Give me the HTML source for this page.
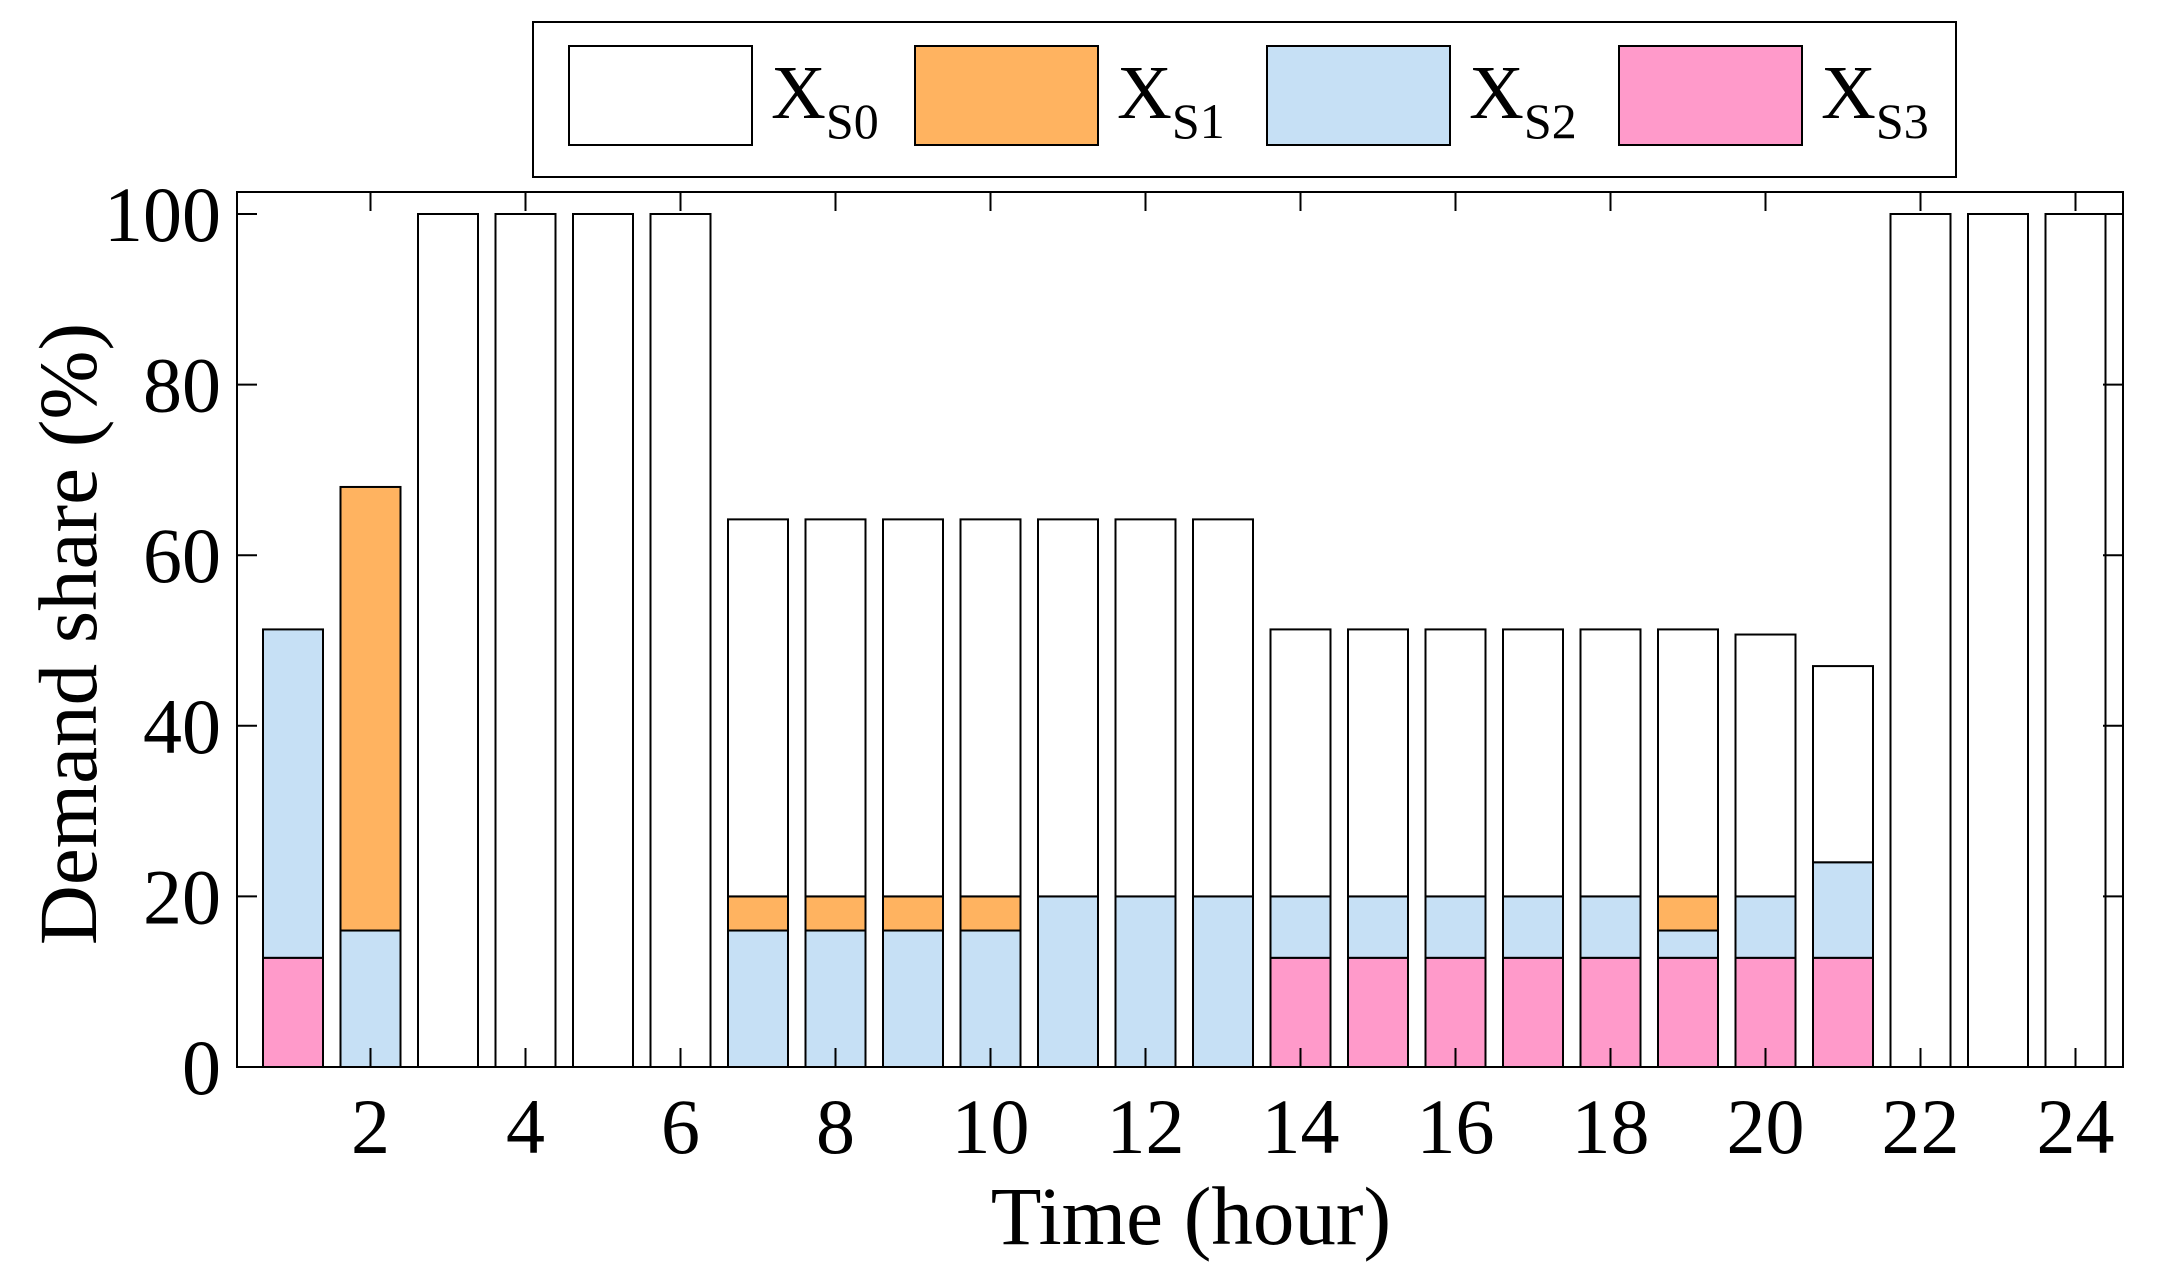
<!DOCTYPE html>
<html><head><meta charset="utf-8"><style>
html,body{margin:0;padding:0;background:#fff;}
svg{display:block;font-family:"Liberation Serif",serif;}
</style></head><body>
<svg id="s" width="2170" height="1275" viewBox="0 0 2170 1275" xmlns="http://www.w3.org/2000/svg"></svg>
<script>
const s=document.getElementById('s');
const L=237,R=2123,T=192,B=1067;
const y100=214; const sc=(B-y100)/100;
const yv=v=>B-sc*v;
const cx=h=>293+(h-1)*77.5, W=60;
const C={w:'#ffffff',o:'#FFB360',b:'#C6E0F5',p:'#FF9ACA'};
const data={
1:[['p',0,12.8],['b',12.8,51.3]],
2:[['b',0,16],['o',16,68]],
7:[['b',0,16],['o',16,20],['w',20,64.2]],
11:[['b',0,20],['w',20,64.2]],
14:[['p',0,12.8],['b',12.8,20],['w',20,51.3]],
19:[['p',0,12.8],['b',12.8,16],['o',16,20],['w',20,51.3]],
20:[['p',0,12.8],['b',12.8,20],['w',20,50.7]],
21:[['p',0,12.8],['b',12.8,24],['w',24,47]]
};
[3,4,5,6,22,23,24].forEach(h=>data[h]=[['w',0,100]]);
[8,9,10].forEach(h=>data[h]=data[7]);
[12,13].forEach(h=>data[h]=data[11]);
[15,16,17,18].forEach(h=>data[h]=data[14]);
let h='';
for(const k in data){const x=cx(+k)-W/2;
 for(const [c,a,b] of data[k]){h+=`<rect x="${x}" y="${yv(b)}" width="${W}" height="${yv(a)-yv(b)}" fill="${C[c]}" stroke="#000" stroke-width="2"/>`;}}
h+=`<rect x="${L}" y="${T}" width="${R-L}" height="${B-T}" fill="none" stroke="#000" stroke-width="2"/>`;
for(let v=0;v<=100;v+=20){const y=yv(v);
 h+=`<line x1="${L}" y1="${y}" x2="${L+20}" y2="${y}" stroke="#000" stroke-width="2"/><line x1="${R}" y1="${y}" x2="${R-20}" y2="${y}" stroke="#000" stroke-width="2"/>`;
 h+=`<text x="${L-16}" y="${y+27}" font-size="78" text-anchor="end">${v}</text>`;}
for(let t=2;t<=24;t+=2){const x=cx(t);
 h+=`<line x1="${x}" y1="${T}" x2="${x}" y2="${T+19}" stroke="#000" stroke-width="2"/><line x1="${x}" y1="${B}" x2="${x}" y2="${B-19}" stroke="#000" stroke-width="2"/>`;
 h+=`<text x="${x}" y="${B+86}" font-size="78" text-anchor="middle">${t}</text>`;}
h+=`<text x="1191" y="1244" font-size="83" text-anchor="middle">Time (hour)</text>`;
h+=`<text transform="translate(96,634) rotate(-90)" font-size="83" text-anchor="middle">Demand share (%)</text>`;
h+=`<rect x="533" y="22" width="1423" height="155" fill="#fff" stroke="#000" stroke-width="2"/>`;
const lg=[[569,'w','0'],[915,'o','1'],[1267,'b','2'],[1619,'p','3']];
for(const [x,c,n] of lg){h+=`<rect x="${x}" y="46" width="183" height="99" fill="${C[c]}" stroke="#000" stroke-width="2"/>`;
 h+=`<text x="${x+202}" y="118" font-size="76">X<tspan font-size="50" dy="20">S${n}</tspan></text>`;}
s.innerHTML=h;
</script>
</body></html>
